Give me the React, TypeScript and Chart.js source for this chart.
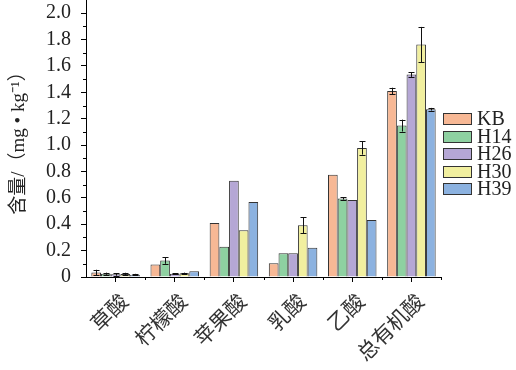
import React, { useEffect, useRef } from "react";
import { Chart, registerables } from "chart.js";

Chart.register(...registerables);

const categories = ["草酸", "柠檬酸", "苹果酸", "乳酸", "乙酸", "总有机酸"];
const seriesNames = ["KB", "H14", "H26", "H30", "H39"];
const seriesColors = ["#F7B895", "#8ED1A1", "#B5A7D5", "#F1EF9F", "#8CB2E0"];

const kbValues = [0.035, 0.095, 0.41, 0.105, 0.775, 1.41];
const kbErrors = [0.02, 0, 0, 0, 0, 0.025];
const h14Values = [0.025, 0.125, 0.23, 0.18, 0.595, 1.148];
const h14Errors = [0.008, 0.025, 0, 0, 0.008, 0.045];
const h26Values = [0.02, 0.024, 0.73, 0.18, 0.583, 1.535];
const h26Errors = [0.01, 0.005, 0, 0, 0, 0.018];
const h30Values = [0.022, 0.028, 0.355, 0.392, 0.978, 1.762];
const h30Errors = [0.01, 0.005, 0, 0.06, 0.05, 0.134];
const h39Values = [0.018, 0.044, 0.568, 0.222, 0.433, 1.272];
const h39Errors = [0.006, 0, 0, 0, 0, 0.01];

const allValues = [kbValues, h14Values, h26Values, h30Values, h39Values];
const allErrors = [kbErrors, h14Errors, h26Errors, h30Errors, h39Errors];

const yMajorTicks = [0, 0.2, 0.4, 0.6, 0.8, 1.0, 1.2, 1.4, 1.6, 1.8, 2.0];
const yMinorTicks = [0.1, 0.3, 0.5, 0.7, 0.9, 1.1, 1.3, 1.5, 1.7, 1.9];
const yTitle = "含量/（mg • kg⁻¹）";

const serif = '"Liberation Serif", "Times New Roman", "Noto Sans CJK SC", serif';

const extrasPlugin = {
  id: "extras",
  afterDatasetsDraw(chart: any) {
    const ctx = chart.ctx;
    const y = chart.scales.y;
    const x = chart.scales.x;
    ctx.save();
    ctx.strokeStyle = "#111";
    ctx.lineWidth = 1;
    allErrors.forEach((errs, di) => {
      const meta = chart.getDatasetMeta(di);
      errs.forEach((e, j) => {
        if (!e) return;
        const bar = meta.data[j];
        const v = allValues[di][j];
        const top = y.getPixelForValue(v + e);
        const bot = y.getPixelForValue(Math.max(0, v - e));
        const cx = Math.round(bar.x) + 0.5;
        ctx.beginPath();
        ctx.moveTo(cx, top);
        ctx.lineTo(cx, bot);
        ctx.moveTo(cx - 3, Math.round(top) + 0.5);
        ctx.lineTo(cx + 3, Math.round(top) + 0.5);
        ctx.moveTo(cx - 3, Math.round(bot) + 0.5);
        ctx.lineTo(cx + 3, Math.round(bot) + 0.5);
        ctx.stroke();
      });
    });
    ctx.strokeStyle = "#000";
    ctx.beginPath();
    yMinorTicks.forEach((v) => {
      const py = Math.round(y.getPixelForValue(v)) + 0.5;
      ctx.moveTo(y.right - 3, py);
      ctx.lineTo(y.right, py);
    });
    for (let i = 0; i < categories.length; i++) {
      const a = x.getPixelForValue(i);
      const b = i < categories.length - 1 ? x.getPixelForValue(i + 1) : a + (a - x.getPixelForValue(i - 1));
      const px = Math.round((a + b) / 2) + 0.5;
      ctx.moveTo(px, x.top);
      ctx.lineTo(px, x.top + 3);
    }
    ctx.stroke();
    ctx.restore();
  },
  afterDraw(chart: any) {
    const ctx = chart.ctx;
    ctx.save();
    ctx.font = "20px " + serif;
    ctx.textBaseline = "middle";
    ctx.textAlign = "left";
    chart.data.datasets.forEach((ds: any, i: number) => {
      const cy = 119 + i * 17.5;
      ctx.fillStyle = ds.backgroundColor;
      ctx.fillRect(443, Math.round(cy - 6), 29, 12);
      ctx.strokeStyle = "#333";
      ctx.lineWidth = 1;
      ctx.strokeRect(443.5, Math.round(cy - 6) + 0.5, 28, 11);
      ctx.fillStyle = "#222";
      ctx.fillText(ds.label, 477, cy + 1);
    });
    ctx.restore();
  },
};

export default function App() {
  const ref = useRef<HTMLCanvasElement | null>(null);
  useEffect(() => {
    if (!ref.current) return;
    const chart = new Chart(ref.current, {
      type: "bar",
      data: {
        labels: categories,
        datasets: seriesNames.map((name, i) => ({
          label: name,
          data: allValues[i],
          backgroundColor: seriesColors[i],
          borderColor: "#333",
          borderWidth: 1,
          categoryPercentage: 0.82,
          barPercentage: 1.0,
        })),
      },
      options: {
        responsive: false,
        animation: false,
        devicePixelRatio: 1,
        layout: { padding: { left: 0, right: 75, top: 0, bottom: 0 } },
        plugins: {
          legend: { display: false },
          tooltip: { enabled: false },
        },
        scales: {
          x: {
            type: "category",
            offset: true,
            afterFit: (s: any) => {
              s.height = 93;
              s.paddingLeft = 0;
              s.paddingRight = 0;
            },
            border: { display: true, color: "#000", width: 1 },
            grid: {
              display: true,
              drawOnChartArea: false,
              offset: false,
              drawTicks: true,
              tickLength: 5,
              color: "#000",
              tickColor: "#000",
            },
            ticks: {
              autoSkip: false,
              minRotation: 45,
              maxRotation: 45,
              padding: 8,
              labelOffset: 10,
              color: "#333",
              font: { family: serif, size: 21 },
            },
          },
          y: {
            min: 0,
            max: 2.1,
            afterFit: (s: any) => {
              s.width = 86;
              s.paddingTop = 0;
              s.paddingBottom = 0;
            },
            afterBuildTicks: (s: any) => {
              s.ticks = yMajorTicks.map((v) => ({ value: v }));
            },
            border: { display: true, color: "#000", width: 1 },
            grid: {
              display: true,
              drawOnChartArea: false,
              drawTicks: true,
              tickLength: 5,
              color: "#000",
              tickColor: "#000",
            },
            ticks: {
              autoSkip: false,
              padding: 10,
              color: "#222",
              font: { family: serif, size: 20 },
              callback: (v: any) => (Number(v) === 0 ? "0" : Number(v).toFixed(1)),
            },
            title: {
              display: true,
              text: yTitle,
              color: "#222",
              font: { family: serif, size: 19 },
              padding: { top: 8, bottom: 0 },
            },
          },
        },
      },
      plugins: [extrasPlugin],
    });
    return () => chart.destroy();
  }, []);
  return (
    <div style={{ position: "absolute", left: 0, top: 0, width: 516, height: 370 }}>
      <canvas ref={ref} width={516} height={370} style={{ display: "block" }} />
    </div>
  );
}
